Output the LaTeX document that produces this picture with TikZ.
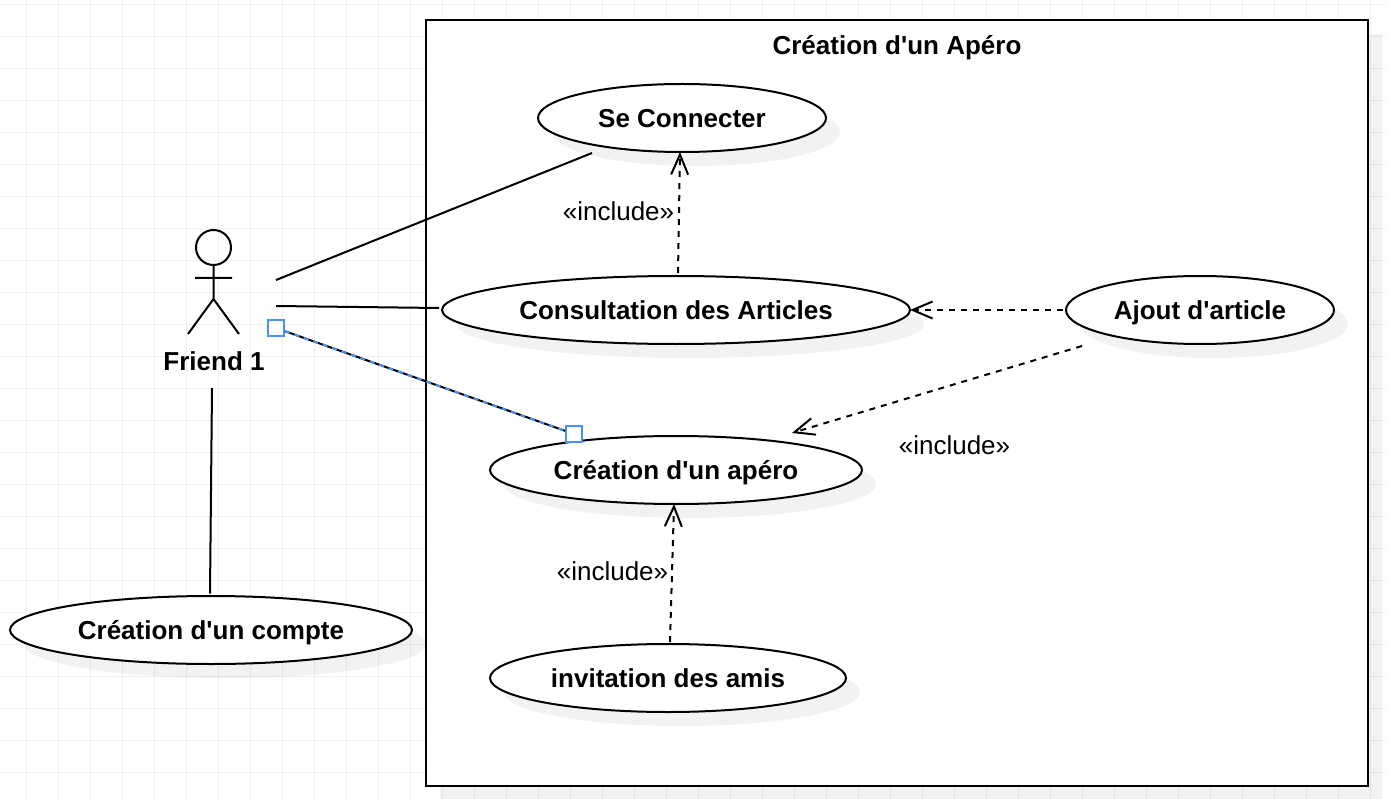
\documentclass[tikz,border=0pt]{standalone}
\usepackage{fontspec}
\setmainfont{Liberation Sans}
\usetikzlibrary{arrows.meta,shapes.geometric,shadows}

\definecolor{gridline}{HTML}{F0F0F0}
\definecolor{handleblue}{HTML}{4A90F5}

\begin{document}
\begin{tikzpicture}[
  x=1pt,y=-1pt,
  font=\fontsize{26}{30}\selectfont,
  line width=2pt,
  usecase/.style={ellipse,draw,fill=white,inner sep=0pt,minimum height=68pt,text height=18.9pt,text depth=.4pt,
    font=\fontsize{26}{30}\selectfont\bfseries,
    drop shadow={shadow xshift=14pt,shadow yshift=-14pt,fill=black,opacity=.05}},
  title/.style={font=\fontsize{26}{30}\selectfont\bfseries,inner sep=0pt,text height=18.9pt,text depth=.4pt},
  incl/.style={inner sep=0pt},
  handle/.style={draw=handleblue,fill=white,inner sep=0pt,minimum size=16pt},
  ar/.style={dashed,dash pattern=on 6pt off 6pt,-{Straight Barb[length=20pt,width=17pt,line width=2pt]}}]

\useasboundingbox (0,0) rectangle (1388,799);
\fill[white] (0,0) rectangle (1388,799);

% grid
\foreach \gx in {26.5,58.5,...,1388} \draw[gridline,line width=1.5pt] (\gx,0) -- (\gx,799);
\foreach \gy in {4.5,36.5,...,799} \draw[gridline,line width=1.5pt] (0,\gy) -- (1388,\gy);

% system box
\fill[black,opacity=.05] (440,34) rectangle (1382,800);
\node[draw,fill=white,inner sep=0pt,minimum width=942pt,minimum height=766pt] (sys) at (897,403) {};
\node[title] (systitle) at (897,45) {Création d\textquotesingle un Apéro};

% use cases
\node[usecase,minimum width=288pt] (secon) at (682,118) {Se Connecter};
\node[usecase,minimum width=468pt] (consult) at (676,310) {Consultation des Articles};
\node[usecase,minimum width=268pt] (ajout) at (1200,310) {Ajout d\textquotesingle article};
\node[usecase,minimum width=372pt] (apero) at (676,470) {Création d\textquotesingle un apéro};
\node[usecase,minimum width=356pt] (invit) at (668,678) {invitation des amis};
\node[usecase,minimum width=402pt] (compte) at (211,630) {Création d\textquotesingle un compte};

% actor
\node[minimum width=125pt,minimum height=104pt,inner sep=0pt] (actor) at (213.5,282) {};
\draw (213.5,247.5) circle (17.5);
\draw (213.5,265) -- (213.5,299) (195,278) -- (232,278) (188,334) -- (213.5,299) -- (239,334);
\node[title] (friend) at (214,361) {Friend 1};

% labels
\node[incl] (inc1) at (618.5,211) {«include»};
\node[incl] (inc2) at (954.5,445) {«include»};
\node[incl] (inc3) at (612.5,571) {«include»};

% handles
\node[handle] (hleft) at (276,328) {};
\node[handle] (hright) at (574,434) {};

\draw ([shift={(-1,-2)}]actor.east) -- ([shift={(-90,35)}]secon.center);
\draw ([shift={(-1,24)}]actor.east) -- ([shift={(-2,-2)}]consult.west);
\draw (hleft) -- (hright);
\draw[handleblue,dash pattern=on 5pt off 5pt] (hleft) -- (hright);
\draw ([shift={(-2,27)}]friend.center) -- ([shift={(-1,-1.5)}]compte.north);

\draw[ar] ([shift={(2,-2)}]consult.north) -- ([shift={(-2,-1)}]secon.south);
\draw[ar] ([shift={(-2,0)}]ajout.west) -- ([shift={(-1,0)}]consult.east);
\draw[ar] ([shift={(-118,36)}]ajout.center) -- ([shift={(116,-37)}]apero.center);
\draw[ar] ([shift={(2,-1)}]invit.north) -- ([shift={(-2,-1)}]apero.south);
\end{tikzpicture}
\end{document}
